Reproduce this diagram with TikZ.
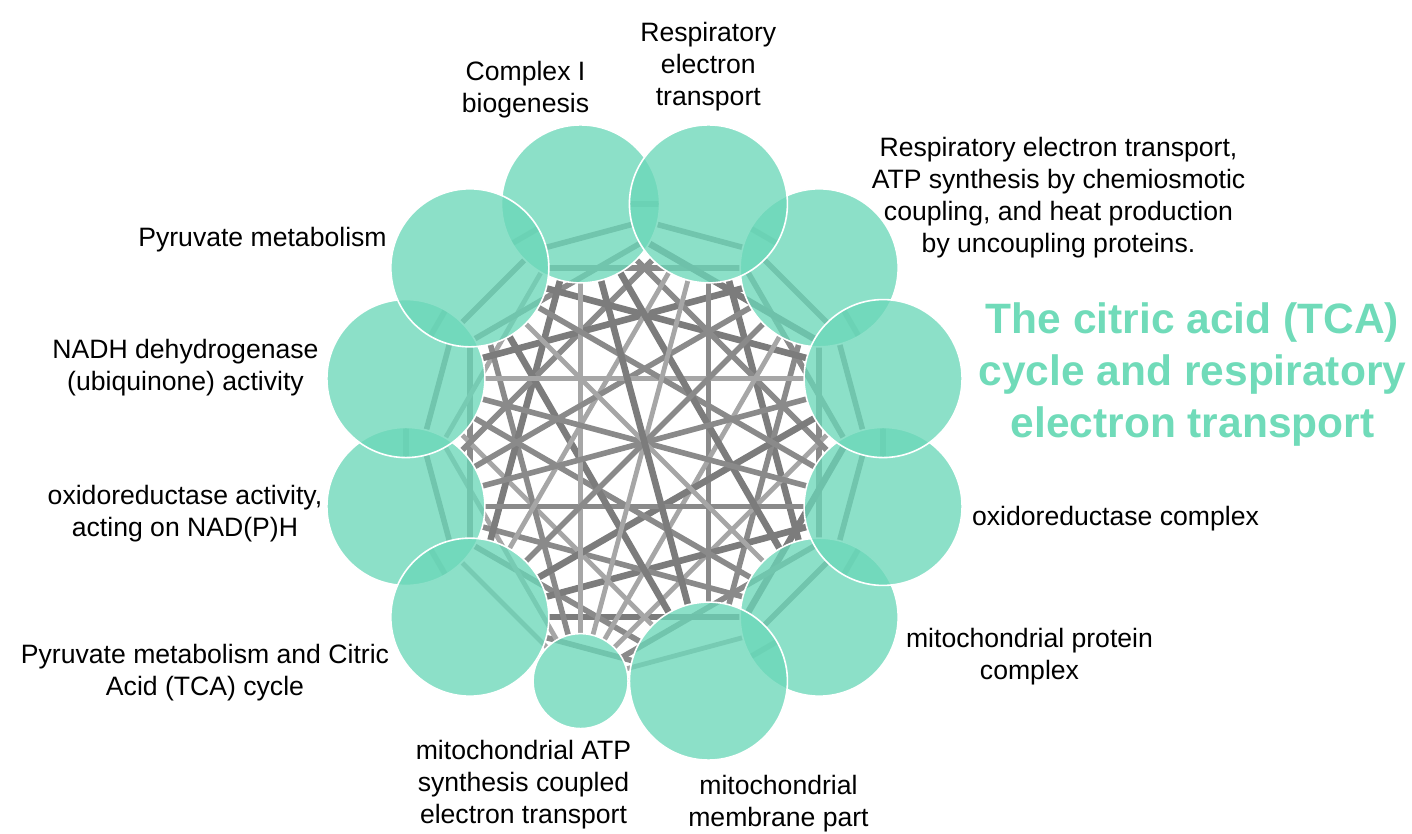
\documentclass[tikz,border=0pt]{standalone}
\usepackage{fontspec}
\setmainfont{Liberation Sans}
\usetikzlibrary{backgrounds}
\definecolor{termteal}{RGB}{106,215,184}
\definecolor{titleteal}{RGB}{112,219,185}
\definecolor{edgelight}{RGB}{166,166,166}
\definecolor{edgemid}{RGB}{138,138,138}
\definecolor{edgedark}{RGB}{124,124,124}
\begin{document}
\begin{tikzpicture}[x=0.5pt,y=0.5pt,
        termnode/.style={shape=circle,inner sep=0pt,outer sep=0pt,fill=termteal,fill opacity=0.77,draw=white,line width=0.8pt},%
        bignode/.style={minimum size=79pt},%
        smallnode/.style={minimum size=47.5pt},%
        termlabel/.style={align=center,anchor=base,inner sep=0pt,font=\fontsize{13.3}{16}\selectfont},%
        titlelabel/.style={align=center,anchor=base,inner sep=0pt,text=titleteal,font=\fontsize{21.25}{26}\selectfont\bfseries},%
        weakedge/.style={-,line width=2.4pt,draw=edgelight},%
        midedge/.style={-,line width=2.8pt,draw=edgemid},%
        strongedge/.style={-,line width=3.3pt,draw=edgedark}]
        \useasboundingbox (-644.5,-391.5) rectangle (767.5,442.5);
        %% nodes or terms

        \foreach \nodename/\angle/\size in {complexi/105/bignode, respatp/45/bignode,
          mitoprot/-45/bignode, oxcomplex/-15/bignode, tca/15/bignode, resp/75/bignode,
          mitomem/-75/bignode, mitoatp/-105/smallnode, oxact/-165/bignode,
          pyrtca/-135/bignode, nadh/165/bignode, pyrmet/135/bignode}
        {
          \node (\nodename) at (\angle:247) [termnode,\size] {};
        }
        %% labels (placed at the baseline of their last line)
        \node (complexilabel) at (-119,329.5) [termlabel] {Complex I\\biogenesis};
        \node (resplabel) at (63.8,337) [termlabel] {Respiratory\\electron\\transport};
        \node (respatplabel) at (414,190) [termlabel] {Respiratory electron transport,\\ATP synthesis by chemiosmotic\\coupling, and heat production\\by uncoupling proteins.};
        \node (tcalabel) at (548,4.5) [titlelabel] {The citric acid (TCA)\\cycle and respiratory\\electron transport};
        \node (oxcomplexlabel) at (471,-83.5) [termlabel] {oxidoreductase complex};
        \node (mitoprotlabel) at (385,-236.5) [termlabel] {mitochondrial protein\\complex};
        \node (mitomemlabel) at (134,-383.5) [termlabel] {mitochondrial\\membrane part};
        \node (mitoatplabel) at (-121,-380.5) [termlabel] {mitochondrial ATP\\synthesis coupled\\electron transport};
        \node (pyrtcalabel) at (-439.5,-253.2) [termlabel] {Pyruvate metabolism and Citric\\Acid (TCA) cycle};
        \node (oxactlabel) at (-459.5,-94.5) [termlabel] {oxidoreductase activity,\\acting on NAD(P)H};
        \node (nadhlabel) at (-459,51.8) [termlabel] {NADH dehydrogenase\\(ubiquinone) activity};
        \node (pyrmetlabel) at (-382,195.5) [termlabel] {Pyruvate metabolism};
        %% edges or overlaps
        \begin{scope}[on background layer]
        \foreach \startnode/\endnode/\kind in {resp/respatp/midedge, respatp/tca/midedge,
          tca/oxcomplex/midedge, oxcomplex/mitoprot/midedge, mitoprot/mitomem/midedge,
          mitomem/mitoatp/midedge, mitoatp/pyrtca/midedge, pyrtca/oxact/midedge,
          oxact/nadh/midedge, nadh/pyrmet/midedge, pyrmet/complexi/midedge, complexi/resp/midedge,
          resp/tca/midedge, respatp/oxcomplex/midedge, tca/mitoprot/midedge, oxcomplex/mitomem/midedge,
          mitoprot/mitoatp/weakedge, mitomem/pyrtca/midedge, mitoatp/oxact/weakedge, pyrtca/nadh/midedge,
          oxact/pyrmet/midedge, nadh/complexi/midedge, pyrmet/resp/midedge, complexi/respatp/midedge,
          resp/oxcomplex/midedge, respatp/mitoprot/midedge, tca/mitomem/strongedge, oxcomplex/mitoatp/midedge,
          mitoprot/pyrtca/strongedge, mitomem/oxact/midedge, mitoatp/nadh/weakedge, pyrtca/pyrmet/midedge,
          oxact/complexi/weakedge, nadh/resp/midedge, pyrmet/respatp/midedge, complexi/tca/strongedge,
          resp/mitoprot/strongedge, respatp/mitomem/midedge, tca/mitoatp/weakedge, oxcomplex/pyrtca/strongedge,
          mitoprot/oxact/midedge, mitomem/nadh/weakedge, mitoatp/pyrmet/midedge, pyrtca/complexi/strongedge,
          oxact/resp/midedge, nadh/respatp/strongedge, pyrmet/tca/strongedge, complexi/oxcomplex/midedge,
          resp/mitomem/midedge, respatp/mitoatp/weakedge, tca/pyrtca/strongedge, oxcomplex/oxact/midedge,
          mitoprot/nadh/midedge, mitomem/pyrmet/strongedge, mitoatp/complexi/weakedge, pyrtca/resp/weakedge,
          oxact/respatp/midedge, nadh/tca/weakedge, pyrmet/oxcomplex/midedge, complexi/mitoprot/strongedge,
          resp/mitoatp/weakedge, respatp/pyrtca/midedge, tca/oxact/midedge, oxcomplex/nadh/midedge,
          mitoprot/pyrmet/weakedge, mitomem/complexi/strongedge}
        {
          \draw[\kind] (\startnode) -- (\endnode);
        }
        \end{scope}
      \end{tikzpicture}
\end{document}
